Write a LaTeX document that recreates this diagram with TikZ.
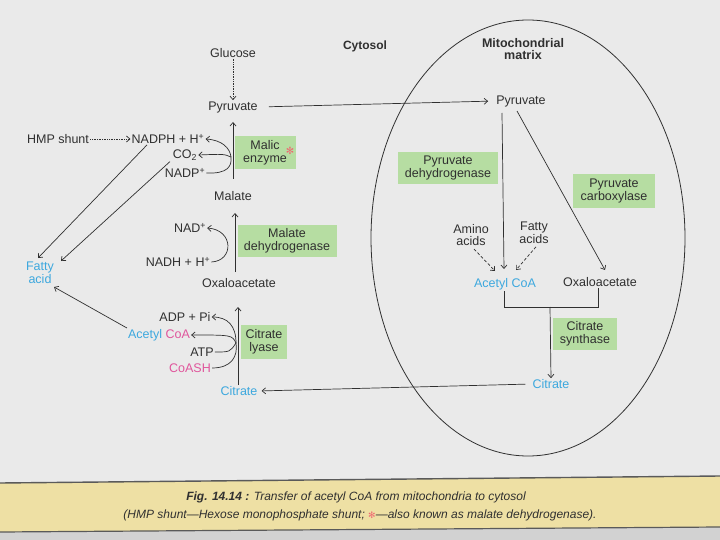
\documentclass[tikz,border=0pt]{standalone}
\usepackage{fontspec}
\setmainfont{Liberation Sans}
\newfontfamily\symfont{DejaVu Sans}
\usetikzlibrary{arrows.meta}
\definecolor{bg}{HTML}{EAEAEA}
\definecolor{enz}{HTML}{B6DDA2}
\definecolor{bluet}{HTML}{3DA8DE}
\definecolor{magt}{HTML}{E0569C}
\definecolor{ink}{HTML}{303030}
\definecolor{capfill}{HTML}{EEE0A4}
\definecolor{lowbg}{HTML}{D2D2D2}
\definecolor{astred}{HTML}{EE6A72}
\newcommand{\myast}{{\symfont ✻}}
\begin{document}
\begin{tikzpicture}[x=1pt,y=-1pt,
  font=\fontsize{12.5}{13.5}\selectfont,
  every node/.style={text=ink, inner sep=1pt},
  enzbox/.style={fill=enz, align=center, inner sep=0pt},
  arr/.style={draw=ink, line width=0.7pt, -{Straight Barb[length=3.5pt,width=6pt]}},
  ln/.style={draw=ink, line width=0.7pt},
  dotarr/.style={arr, densely dotted},
  dasharr/.style={arr, densely dashed},
  hdr/.style={font=\fontsize{12}{13}\selectfont\bfseries, align=center}]
\useasboundingbox (0,0) rectangle (720,540);
\fill[bg] (0,0) rectangle (720,540);
% caption bar
\fill[lowbg] (0,532) -- (720,527) -- (720,540) -- (0,540) -- cycle;
\fill[capfill] (0,483) -- (720,476) -- (720,527) -- (0,532) -- cycle;
\draw[ink!80, line width=1.4pt] (0,483) -- (720,476);
\draw[ink!80, line width=1.2pt] (0,532) -- (720,527);
\node[font=\fontsize{12}{13}\selectfont\itshape] (cap1) at (356,497) {\textbf{Fig. 14.14 :} Transfer of acetyl CoA from mitochondria to cytosol};
\node[font=\fontsize{12}{13}\selectfont\itshape] (cap2) at (360,515) {(HMP shunt—Hexose monophosphate shunt; \textcolor{astred}{\fontsize{9}{9}\selectfont\myast}—also known as malate dehydrogenase).};

% mitochondrion
\draw[ink, line width=0.8pt] (528,238) ellipse [x radius=157, y radius=218];
\node[hdr] (cyto) at (365,46) {Cytosol};
\node[hdr, font=\fontsize{12.5}{12}\selectfont\bfseries] (mito) at (523,49) {Mitochondrial\\matrix};

% cytosol pathway
\node (glc) at (233,53) {Glucose};
\node (pyr) at (233,107) {Pyruvate};
\node (mal) at (233,196) {Malate};
\node (oaa) at (239,283) {Oxaloacetate};
\node[text=bluet] (cit) at (239,391) {Citrate};
\node[text=bluet, align=center] (fa) at (40,273) {Fatty\\acid};
\node (hmp) at (58,139) {HMP shunt};
\node (nadph) at (168,139) {NADPH + H\textsuperscript{+}};
\node (co2) at (185,155) {CO\textsubscript{2}};
\node (nadp) at (185,173) {NADP\textsuperscript{+}};
\node (nad) at (190,228) {NAD\textsuperscript{+}};
\node (nadh) at (178,262) {NADH + H\textsuperscript{+}};
\node (adp) at (185,317) {ADP + Pi};
\node (acoa) at (159,335) {\textcolor{bluet}{Acetyl} \textcolor{magt}{CoA}};
\node (atp) at (202,352) {ATP};
\node[text=magt] (coash) at (190,368) {CoASH};

\node[enzbox, minimum width=61pt, minimum height=33pt] (me) at (265,153) {Malic\\enzyme};
\node[text=astred, font=\fontsize{10}{10}\selectfont] (ast) at (290,151) {\myast};
\node[enzbox, minimum width=99pt, minimum height=32pt] (mdh) at (287,241) {Malate\\dehydrogenase};
\node[enzbox, minimum width=46pt, minimum height=34pt] (cl) at (264,342) {Citrate\\lyase};

\draw[dotarr] (glc) -- (pyr);
\draw[dotarr] (hmp) -- (nadph);
\coordinate (m1a) at (233,179);
\coordinate (m1b) at (233,122);
\draw[arr] (m1a) -- (m1b);
\coordinate (m2a) at (235,272);
\coordinate (m2b) at (235,213);
\draw[arr] (m2a) -- (m2b);
\coordinate (m3a) at (238,385);
\coordinate (m3b) at (238,307);
\draw[arr] (m3a) -- (m3b);

% malic enzyme cofactors
\coordinate (j1) at (231,157);
\draw[ln] (nadp.east) .. controls (228,174) and (232,166) .. (j1);
\draw[arr] (j1) .. controls (230,148) and (222,140) .. (nadph.east);
\draw[arr] (j1) .. controls (224,154) .. (co2.east);
% MDH cofactors
\draw[arr] (nadh.east) .. controls (234,261) and (234,230) .. (nad.east);
% citrate lyase cofactors
\coordinate (j2) at (236,343);
\draw[ln] (atp.east) .. controls (230,352) .. (j2);
\draw[ln] (coash.east) .. controls (232,368) and (238,356) .. (j2);
\draw[arr] (j2) .. controls (236,326) and (228,317) .. (adp.east);
\draw[arr] (j2) .. controls (232,335) .. (acoa.east);

% to fatty acid
\coordinate (fa1) at (38,258);
\coordinate (fa2) at (61,261);
\coordinate (fa3) at (54,287);
\draw[arr] ([xshift=-21pt]nadph.south) -- (fa1);
\draw[arr] ([xshift=-15pt]co2.south) -- (fa2);
\draw[arr] (acoa.north west) -- (fa3);

% mitochondrial pathway
\node (mpyr) at (521,101) {Pyruvate};
\node[text=bluet] (macoa) at (505,284) {Acetyl CoA};
\node (moaa) at (600,282) {Oxaloacetate};
\node[align=center, font=\fontsize{12.5}{12.5}\selectfont] (amino) at (471,235) {Amino\\acids};
\node[align=center, font=\fontsize{12.5}{12.5}\selectfont] (fatty) at (534,233) {Fatty\\acids};
\node[text=bluet] (mcit) at (551,384) {Citrate};
\node[enzbox, minimum width=100pt, minimum height=32pt] (pdh) at (448,168) {Pyruvate\\dehydrogenase};
\node[enzbox, minimum width=82pt, minimum height=34pt] (pc) at (614,191) {Pyruvate\\carboxylase};
\node[enzbox, minimum width=64pt, minimum height=32pt] (cs) at (585,334) {Citrate\\synthase};

\draw[arr, shorten <=10pt, shorten >=7pt] (pyr.east) -- (mpyr.west);
\coordinate (p1) at (502,113);
\coordinate (p2) at (517,111);
\coordinate (p1e) at (504,269);
\coordinate (p2e) at (605,270);
\draw[arr] (p1) -- (p1e);
\draw[arr] (p2) -- (p2e);
\coordinate (aa1) at (495,271);
\coordinate (fa4) at (516,270);
\draw[dasharr] (amino.south) ++(3,2) -- (aa1);
\draw[dasharr] (fatty.south) ++(2,2) -- (fa4);
\coordinate (b1) at (504,307);
\coordinate (b2) at (598,307);
\coordinate (b3) at (550,307);
\draw[ln] ([xshift=-1pt]macoa.south) -- (b1) -- (b2) -- ([xshift=-2pt]moaa.south);
\draw[arr] (b3) -- (mcit.north);
\draw[arr, shorten <=6pt, shorten >=3pt] (mcit.west) -- (cit.east);
\end{tikzpicture}
\end{document}
